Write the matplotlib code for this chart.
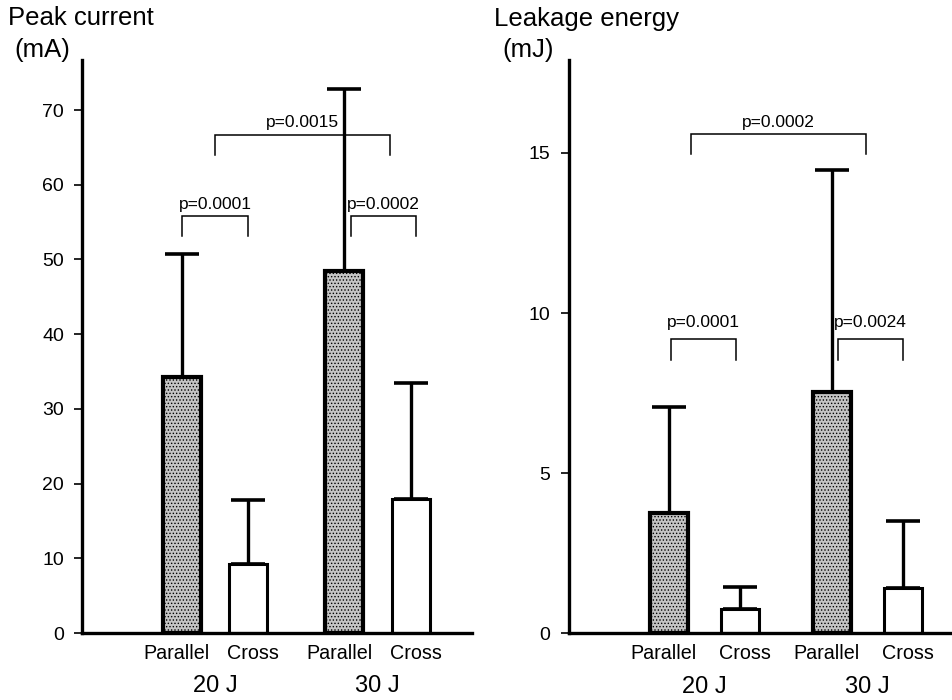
import matplotlib
matplotlib.use("Agg")
import matplotlib.pyplot as plt
import matplotlib.transforms as mtransforms

plt.rcParams['font.family'] = ['Liberation Sans', 'DejaVu Sans']
plt.rcParams['hatch.linewidth'] = 0.6

# data
labels = ['Parallel', 'Cross', 'Parallel', 'Cross']
groups = ['20 J', '30 J']

current_mean = [34.3, 9.3, 48.4, 18.0]
current_sd = [16.4, 8.5, 24.4, 15.4]

energy_mean = [3.75, 0.75, 7.52, 1.42]
energy_sd = [3.30, 0.68, 6.95, 2.10]

current_p = ['p=0.0001', 'p=0.0002', 'p=0.0015']
energy_p = ['p=0.0001', 'p=0.0024', 'p=0.0002']


def bracket(ax, x1, x2, ytop, ybot, text, ytext):
    ax.plot([x1, x1, x2, x2], [ybot, ytop, ytop, ybot], color='black', lw=1.1,
            solid_joinstyle='miter', clip_on=False)
    ax.text((x1 + x2) / 2, ytext, text, ha='center', va='center', fontsize=12.5)


def draw_panel(fig, ax, means, sds, pos, width, xlim, ylim, yticks):
    colors = ['#c4c4c4', 'white', '#c4c4c4', 'white']
    hatches = ['.....', None, '.....', None]
    lws = [3.0, 2.2, 3.0, 2.2]
    for x, m, s, c, h, lw in zip(pos, means, sds, colors, hatches, lws):
        ax.bar(x, m, width=width, color=c, edgecolor='black', linewidth=lw,
               hatch=h, zorder=2)
        ax.errorbar(x, m, yerr=[[0], [s]], fmt='none', ecolor='black',
                    elinewidth=2.4, capsize=12, capthick=2.6, zorder=1)
    ax.set_xlim(*xlim)
    ax.set_ylim(*ylim)
    ax.set_yticks(yticks)
    ax.tick_params(axis='y', direction='out', length=6, width=1.2, pad=7, labelsize=14)
    ax.set_xticks(pos)
    ax.set_xticklabels(labels, fontsize=14.2)
    ax.tick_params(axis='x', length=0, pad=8)
    # nudge the two labels of a pair apart a little
    for i, lab in enumerate(ax.get_xticklabels()):
        dx = -5 if i % 2 == 0 else 5
        lab.set_transform(lab.get_transform() +
                          mtransforms.ScaledTranslation(dx / 100, 0, fig.dpi_scale_trans))
    for side in ['top', 'right']:
        ax.spines[side].set_visible(False)
    for side in ['left', 'bottom']:
        ax.spines[side].set_linewidth(2.4)
    for i, g in enumerate(groups):
        gx = (pos[2 * i] + pos[2 * i + 1]) / 2
        ax.annotate(g, xy=(gx, -0.093), xycoords=('data', 'axes fraction'),
                    ha='center', va='center', fontsize=17, annotation_clip=False)


fig = plt.figure(figsize=(9.53, 7.0), dpi=100)

ax1 = fig.add_axes([0.0860, 0.0957, 0.4093, 0.8186])
pos1 = [0, 1, 2.44, 3.44]
draw_panel(fig, ax1, current_mean, current_sd, pos1, 0.57, (-1.50, 4.36), (0, 76.7),
           [0, 10, 20, 30, 40, 50, 60, 70])
bracket(ax1, 0.0, 1.0, 55.8, 53.1, current_p[0], 57.4)
bracket(ax1, 2.54, 3.52, 55.8, 53.1, current_p[1], 57.4)
bracket(ax1, 0.50, 3.13, 66.7, 64.0, current_p[2], 68.3)

ax2 = fig.add_axes([0.5967, 0.0953, 0.4033, 0.8190])
pos2 = [0, 1, 2.296, 3.296]
draw_panel(fig, ax2, energy_mean, energy_sd, pos2, 0.53, (-1.41, 4.0), (0, 17.9),
           [0, 5, 10, 15])
bracket(ax2, 0.03, 0.94, 9.19, 8.54, energy_p[0], 9.69)
bracket(ax2, 2.38, 3.30, 9.19, 8.54, energy_p[1], 9.69)
bracket(ax2, 0.31, 2.77, 15.6, 14.97, energy_p[2], 15.94)

fig.text(8 / 953, 1 - 18 / 700, 'Peak current', ha='left', va='center', fontsize=18.5)
fig.text(14 / 953, 1 - 50 / 700, '(mA)', ha='left', va='center', fontsize=18.5)
fig.text(494 / 953, 1 - 19 / 700, 'Leakage energy', ha='left', va='center', fontsize=18.5)
fig.text(502 / 953, 1 - 50 / 700, '(mJ)', ha='left', va='center', fontsize=18.5)

fig.savefig('out.png', dpi=100)
